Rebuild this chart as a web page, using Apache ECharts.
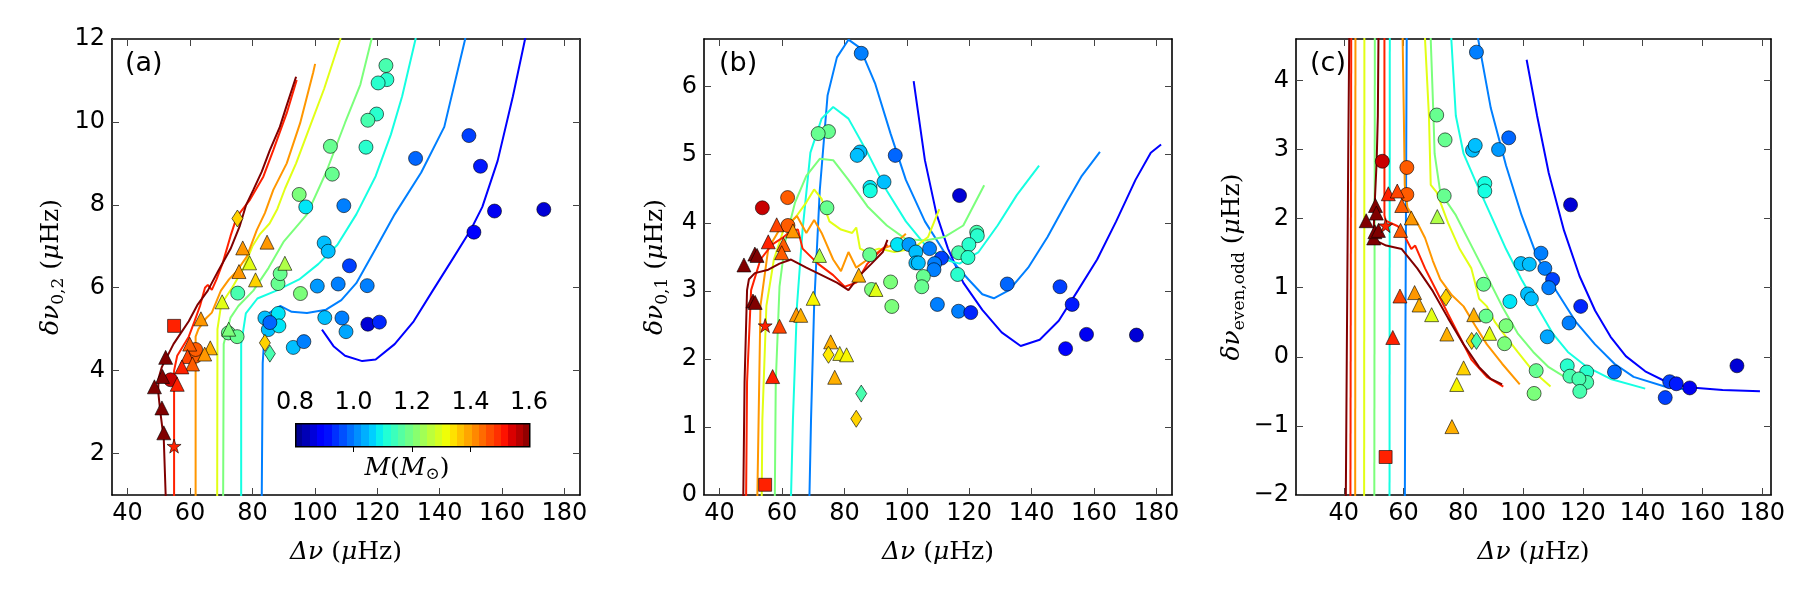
<!DOCTYPE html>
<html lang="en">
<head>
    <meta charset="UTF-8">
    <title>Asteroseismic diagrams</title>
</head>
<body style="margin:0">
<div id="main" style="width:1800px;height:600px;"></div>
</body>
<script src="https://cdn.jsdelivr.net/npm/echarts@6/dist/echarts.min.js"></script>
<script>
    // track masses (M_sun), same order as the track arrays below
    var trackMasses = [0.9, 1.0, 1.1, 1.2, 1.3, 1.4, 1.5, 1.6];
    var xTicks = [40, 60, 80, 100, 120, 140, 160, 180];
    var aTicks = [2, 4, 6, 8, 10, 12];
    var bTicks = [0, 1, 2, 3, 4, 5, 6];
    var cTicks = [-2, -1, 0, 1, 2, 3, 4];
    var massTicks = [0.8, 1.0, 1.2, 1.4, 1.6];

    // ---- panel (a): dnu vs d02 ----  [dnu, value, mass]
    var aCircles = [[122.8,11.36,1.15],[123.1,11.02,1.12],[120.3,10.94,1.12],[119.8,10.19,1.12],[117.0,10.04,1.15],
        [105.0,9.41,1.18],[116.4,9.39,1.12],[105.6,8.74,1.18],[95.0,8.25,1.2],[97.1,7.95,1.08],[109.3,7.98,1.0],
        [132.3,9.12,0.98],[149.4,9.67,0.95],[153.1,8.93,0.92],[157.6,7.85,0.88],[173.4,7.89,0.86],[151.0,7.34,0.9],
        [103.0,7.08,1.05],[104.3,6.88,1.05],[111.1,6.53,0.95],[100.8,6.04,1.02],[107.5,6.09,1.0],[116.8,6.05,1.0],
        [95.4,5.86,1.2],[75.3,5.87,1.15],[103.2,5.28,1.05],[108.7,5.27,1.0],[117.0,5.12,0.86],[120.7,5.17,0.93],
        [110.0,4.94,1.03],[93.1,4.56,1.05],[96.5,4.70,1.0],[84.0,5.27,1.05],[88.3,5.38,1.08],[85.1,4.99,1.05],
        [88.5,5.08,1.08],[85.6,5.16,0.98],[88.2,6.10,1.18],[88.9,6.34,1.18],[72.3,4.91,1.18],[75.1,4.82,1.18],
        [61.8,4.35,1.45],[61.8,4.51,1.45],[53.8,3.78,1.55]];
    var aTriangles = [[76.9,6.96,1.4],[84.7,7.1,1.4],[79.1,6.6,1.3],[75.7,6.39,1.4],[81.0,6.19,1.35],[90.4,6.59,1.25],
        [70.3,5.66,1.3],[63.5,5.25,1.4],[72.4,5.0,1.2],[66.5,4.55,1.38],[59.9,4.64,1.45],[64.7,4.4,1.4],
        [59.2,4.34,1.47],[60.8,4.16,1.45],[57.4,4.09,1.5],[55.9,3.67,1.5],[52.2,4.32,1.6],[51.2,3.86,1.6],
        [48.6,3.61,1.6],[51.0,3.10,1.6],[51.6,2.50,1.6]];
    var aDiamonds = [[75.2,7.67,1.35],[84.0,4.67,1.35],[85.6,4.41,1.15]];
    var aSquares = [[54.9,5.08,1.5]];
    var aStars = [[54.9,2.18,1.5]];
    var aTracks = [
        [[102.3,4.99],[106.0,4.59],[109.7,4.36],[115.2,4.23],[119.5,4.27],[125.6,4.64],[131.7,5.19],[137.8,5.93],
            [143.9,6.66],[150.0,7.40],[153.7,7.95],[158.6,9.06],[163.5,10.62],[167.4,12.0],[168.5,12.5]],
        [[83.0,0.5],[83.0,1],[83.3,4.18],[84.0,5.0],[85.2,5.38],[88.9,5.56],[92.6,5.42],[97.5,5.39],[103.6,5.47],
            [108.5,5.70],[113.3,6.11],[119.5,6.94],[125.6,7.77],[134.1,8.78],[141.5,9.88],[148.2,12.0],[148.8,12.5]],
        [[76.4,0.5],[76.4,4.64],[77.9,5.38],[81.6,5.74],[87.7,5.93],[95.0,6.20],[101.1,6.57],[107.2,7.03],
            [113.3,7.77],[119.5,8.69],[124.4,9.70],[128.0,10.62],[132.3,12.0],[132.5,12.5]],
        [[70.6,0.5],[70.8,4.64],[73.0,5.28],[75.5,5.56],[80.3,5.93],[85.2,6.48],[90.1,7.12],[97.5,7.77],
            [103.6,8.78],[109.7,9.98],[114.6,10.90],[118.2,12.0],[118.5,12.5]],
        [[68.7,0.5],[68.8,5.0],[70.0,5.6],[73.5,6.0],[77.0,6.45],[80.0,7.0],[82.5,7.3],[85.5,7.55],[88.0,7.9],
            [90.5,8.4],[94.0,9.0],[98.0,9.8],[103.0,10.8],[108.2,12.0],[108.5,12.5]],
        [[61.8,0.5],[61.8,4.82],[62.7,5.0],[65.0,5.25],[67.0,5.4],[69.9,5.93],[72.5,6.2],[75.0,6.4],[78.2,6.75],
            [81.4,7.39],[84.0,7.8],[86.7,8.36],[91.0,9.0],[95.3,9.97],[99.5,11.2],[100.1,11.4]],
        [[54.9,0.5],[54.9,4.0],[55.9,4.36],[58.0,4.62],[59.6,4.82],[61.5,5.2],[63.2,5.56],[64.8,6.0],[65.7,6.07],
            [67.0,5.95],[68.5,6.2],[70.5,6.6],[73.0,7.25],[75.0,7.71],[79.2,8.12],[83.5,8.68],[86.7,9.32],
            [91.0,10.21],[94.2,11.01]],
        [[52.2,0.5],[52.2,1],[51.6,2.34],[50.5,3.0],[49.8,3.5],[49.9,3.81],[51.0,4.09],[54.7,4.64],[57.0,4.9],
            [59.6,5.19],[62.5,5.6],[65.7,5.93],[69.0,6.4],[73.0,6.94],[76.0,7.5],[78.0,8.0],[80.3,8.36],[83.0,8.8],
            [85.6,9.32],[88.8,9.88],[91.0,10.4],[94.0,11.09]]
    ];

    // ---- panel (b): dnu vs d01 ----
    var bCircles = [[85.4,6.49,1.0],[74.9,5.34,1.18],[71.6,5.31,1.18],[85.0,5.04,1.05],[84.1,4.99,1.05],[96.3,4.99,0.98],
        [92.7,4.60,1.05],[88.2,4.52,1.08],[88.3,4.47,1.1],[116.9,4.40,0.86],[74.4,4.22,1.18],[53.7,4.22,1.55],
        [61.8,4.37,1.45],[61.9,3.96,1.45],[122.4,3.86,1.15],[122.6,3.81,1.12],[97.0,3.68,1.08],[100.7,3.68,1.02],
        [102.9,3.57,1.05],[107.3,3.62,1.0],[111.1,3.48,0.95],[116.6,3.56,1.15],[119.9,3.68,1.12],[119.6,3.49,1.12],
        [88.1,3.53,1.18],[102.9,3.41,1.05],[103.7,3.41,1.05],[108.9,3.40,1.0],[108.7,3.31,1.0],[105.3,3.21,1.18],
        [116.3,3.24,1.12],[104.8,3.06,1.18],[94.8,3.13,1.2],[88.7,3.02,1.2],[95.2,2.77,1.2],[109.8,2.80,1.0],
        [116.6,2.70,1.0],[120.5,2.68,0.93],[132.2,3.10,0.98],[149.1,3.06,0.95],[153.0,2.80,0.92],[157.6,2.36,0.88],
        [150.9,2.15,0.9],[173.6,2.35,0.86]];
    var bTriangles = [[47.8,3.38,1.6],[51.3,3.54,1.6],[52.0,3.52,1.6],[50.7,2.85,1.6],[51.4,2.83,1.6],[55.6,3.72,1.5],
        [58.3,3.97,1.47],[60.5,3.68,1.45],[59.9,3.56,1.45],[63.5,3.88,1.4],[59.2,2.48,1.47],[57.0,1.74,1.5],
        [64.6,2.65,1.4],[66.0,2.64,1.38],[72.0,3.52,1.25],[70.0,2.89,1.32],[75.6,2.25,1.38],[78.5,2.08,1.32],
        [80.7,2.06,1.32],[76.9,1.73,1.38],[84.6,3.23,1.38],[90.1,3.02,1.3]];
    var bDiamonds = [[74.9,2.06,1.33],[85.4,1.49,1.15],[83.8,1.12,1.35]];
    var bSquares = [[54.6,0.15,1.5]];
    var bStars = [[54.6,2.49,1.5]];
    var bTracks = [
        [[102.2,6.08],[105.8,4.92],[109.5,4.13],[113.2,3.62],[118.1,3.12],[124.2,2.72],[130.4,2.39],[136.5,2.19],
            [142.6,2.28],[148.7,2.56],[154.9,3.01],[161.0,3.46],[167.1,4.02],[173.3,4.63],[178.2,5.03],[181.5,5.15]],
        [[68.8,-0.5],[68.8,0],[69.3,1.10],[70.3,2.78],[72.1,4.47],[74.6,5.87],[77.6,6.43],[81.3,6.69],[85.0,6.57],
            [89.9,6.04],[94.8,5.31],[99.7,4.63],[105.8,4.02],[112.0,3.57],[119.7,3.17],[124.2,2.95],[127.9,2.89],
            [132.8,3.01],[138.9,3.34],[145.1,3.79],[151.2,4.30],[156.1,4.69],[161.9,5.04]],
        [[62.9,-0.5],[62.9,0],[63.5,1.10],[64.8,2.78],[66.6,3.90],[69.1,5.03],[72.7,5.53],[76.4,5.70],[81.3,5.53],
            [87.4,5.03],[93.6,4.47],[99.7,4.02],[105.8,3.68],[112.0,3.46],[116.9,3.40],[123.0,3.57],[129.1,3.96],
            [135.3,4.41],[142.4,4.84]],
        [[57.7,-0.5],[57.7,0],[58.0,1.66],[59.2,3.06],[61.1,3.74],[64.2,4.30],[67.8,4.69],[72.1,4.94],[76.4,4.92],
            [81.3,4.63],[87.4,4.24],[93.6,3.96],[99.7,3.76],[105.8,3.74],[112.0,3.79],[118.1,3.96],[124.8,4.55]],
        [[53.5,-0.5],[53.5,0],[53.7,1.10],[55.0,2.78],[57.4,3.46],[60.5,3.90],[64.2,4.07],[67.8,4.30],[70.3,4.49],
            [72.7,4.35],[75.2,4.02],[78.9,3.90],[82.5,3.85],[83.8,3.93],[85.0,3.62],[87.4,3.57],[91.1,3.62],
            [96.0,3.57],[102.0,3.62],[106.8,3.79],[110.4,4.20]],
        [[52.1,-0.5],[52.1,0],[52.5,1.10],[53.1,2.78],[55.6,3.62],[59.2,3.90],[62.9,4.02],[64.8,4.10],[67.8,3.85],
            [70.3,4.04],[72.7,3.85],[76.4,3.46],[78.9,3.29],[81.3,3.57],[83.8,3.34],[87.4,3.46],[92.3,3.62],
            [96.0,3.68],[99.7,3.84]],
        [[48.5,-0.5],[48.5,0],[48.8,1.66],[50.1,3.01],[53.1,3.46],[56.8,3.68],[60.5,3.79],[62.9,3.88],[65.1,3.90],
            [66.6,3.62],[71.5,3.40],[76.4,3.23],[80.1,3.06],[83.8,3.12],[87.4,3.40],[91.1,3.57],[93.8,3.68]],
        [[47.6,-0.5],[47.6,0],[48.0,1.66],[48.8,3.01],[49.4,3.17],[51.3,3.26],[55.6,3.31],[59.2,3.40],[62.9,3.46],
            [67.8,3.34],[72.7,3.23],[77.6,3.12],[81.3,3.01],[85.0,3.23],[88.7,3.40],[92.3,3.57],[93.8,3.75]]
    ];

    // ---- panel (c): dnu vs d even,odd ----
    var cCircles = [[84.4,4.41,1.0],[95.2,3.17,0.98],[71.1,3.50,1.18],[73.9,3.14,1.18],[83.1,2.99,1.05],[84.0,3.06,1.05],
        [91.8,3.00,1.02],[87.2,2.51,1.1],[87.2,2.40,1.1],[73.6,2.33,1.18],[115.9,2.20,0.86],[52.9,2.83,1.55],
        [61.1,2.74,1.45],[61.1,2.35,1.45],[99.3,1.35,1.05],[102.1,1.34,1.05],[106.0,1.50,1.0],[107.3,1.28,1.0],
        [109.9,1.12,0.95],[108.6,1.00,1.0],[86.8,1.05,1.18],[101.5,0.91,1.05],[102.8,0.84,1.05],[95.6,0.80,1.08],
        [119.3,0.73,0.93],[115.4,0.49,1.0],[87.6,0.59,1.18],[94.3,0.45,1.2],[93.8,0.19,1.2],[108.1,0.29,1.03],
        [104.4,-0.20,1.18],[103.7,-0.53,1.2],[114.8,-0.13,1.12],[115.7,-0.28,1.15],[121.3,-0.22,1.12],
        [121.3,-0.37,1.15],[118.7,-0.32,1.15],[119.0,-0.50,1.15],[130.6,-0.22,0.98],[149.1,-0.36,0.95],
        [151.3,-0.39,0.92],[155.8,-0.45,0.88],[147.6,-0.59,0.95],[171.6,-0.13,0.86]];
    var cTriangles = [[47.5,1.97,1.6],[50.6,2.19,1.6],[50.9,2.08,1.6],[50.0,1.72,1.6],[50.4,1.81,1.6],[51.6,1.83,1.6],
        [54.9,2.36,1.5],[57.9,2.40,1.47],[59.4,2.19,1.45],[59.0,1.83,1.45],[62.6,2.01,1.4],[58.8,0.88,1.47],
        [56.4,0.28,1.5],[63.7,0.93,1.4],[65.2,0.75,1.38],[69.4,0.61,1.3],[71.3,2.03,1.25],[74.5,0.33,1.38],
        [83.5,0.61,1.38],[88.8,0.34,1.3],[80.1,-0.16,1.35],[77.8,-0.40,1.32],[76.2,-1.01,1.38]];
    var cDiamonds = [[74.2,0.86,1.35],[82.8,0.23,1.35],[84.4,0.23,1.15]];
    var cSquares = [[54.0,-1.45,1.5]];
    var cStars = [[54.0,1.90,1.5]];
    // each track: list of line pieces
    var cTracks = [
        [[[101.2,4.30],[104.7,3.49],[108.6,2.66],[113.7,1.83],[118.9,1.17],[124.1,0.67],[129.3,0.29],[134.4,0.01],
            [140.9,-0.21],[147.4,-0.35],[155.2,-0.44],[166.8,-0.48],[179.3,-0.50]]],
        [[[60.4,-2.5],[60.6,0],[60.8,2],[61.1,5]],
            [[84.3,5],[85.0,4.59],[89.2,3.60],[94.3,2.77],[99.5,2.05],[104.7,1.45],[111.2,0.95],[117.6,0.51],
                [124.1,0.18],[130.6,-0.10],[137.0,-0.29],[147.4,-0.43],[155.8,-0.48]]],
        [[[55.3,-2.5],[55.4,5]],
            [[75.8,5],[76.0,4.59],[77.5,3.49],[80.1,2.94],[84.0,2.55],[89.2,2.05],[94.3,1.56],[99.5,1.12],
                [104.7,0.73],[109.9,0.34],[115.0,0.07],[121.5,-0.15],[129.3,-0.32],[140.9,-0.46]]],
        [[[50.2,-2.5],[50.4,5]],
            [[69.0,5],[69.1,4.59],[70.0,3.5],[70.4,2.94],[72.3,2.38],[77.5,2.05],[82.7,1.61],[87.9,1.17],[93.0,0.73],
                [98.2,0.34],[103.4,0.07],[108.6,-0.15],[115.0,-0.32],[122.8,-0.37]]],
        [[[46.8,-2.5],[46.9,5]],
            [[67.1,5],[67.2,4.59],[68.5,3.49],[69.1,2.49],[71.1,2.38],[74.9,1.94],[78.8,1.56],[82.7,1.28],[84.0,1.06],
                [85.3,0.84],[87.9,0.73],[90.5,0.51],[94.3,0.29],[98.2,0.07],[103.4,-0.21],[109.2,-0.43]]],
        [[[43.8,-2.5],[43.9,5]],
            [[59.6,5],[59.7,4.59],[60.1,3.49],[60.4,2.49],[61.3,2.16],[64.6,1.94],[67.2,1.72],[69.8,1.39],[72.3,1.12],
                [76.2,0.89],[80.1,0.73],[84.0,0.45],[87.9,0.18],[93.0,-0.10],[98.9,-0.40]]],
        [[[42.2,-2.5],[42.5,5]],
            [[53.6,5],[53.6,4.59],[53.6,2.05],[54.0,1.97],[55.5,1.94],[58.1,1.89],[60.7,1.72],[62.6,1.56],[63.9,1.61],
                [67.2,1.28],[71.1,0.95],[74.9,0.62],[78.8,0.29],[82.7,-0.04],[87.9,-0.29],[93.4,-0.43]]],
        [[[40.6,-2.5],[41.0,0],[41.5,3],[41.9,5]],
            [[51.6,5],[51.6,4.59],[51.4,3.49],[51.0,2.83],[50.4,2.27],[50.0,1.83],[50.4,1.69],[54.2,1.61],[59.4,1.56],
                [64.6,1.28],[69.8,0.95],[74.9,0.56],[80.1,0.18],[85.3,-0.15],[89.2,-0.32],[93.0,-0.40]]]
    ];

    // matplotlib 'jet' colormap on 0.8..1.6
    var JET = {
        r: [[0, 0], [0.35, 0], [0.66, 1], [0.89, 1], [1, 0.5]],
        g: [[0, 0], [0.125, 0], [0.375, 1], [0.64, 1], [0.91, 0], [1, 0]],
        b: [[0, 0.5], [0.11, 1], [0.34, 1], [0.65, 0], [1, 0]]
    };
    function interp(pts, t) {
        for (var i = 1; i < pts.length; i++) {
            if (t <= pts[i][0]) {
                var x0 = pts[i - 1][0], y0 = pts[i - 1][1], x1 = pts[i][0], y1 = pts[i][1];
                return y0 + (y1 - y0) * (t - x0) / (x1 - x0);
            }
        }
        return pts[pts.length - 1][1];
    }
    function jet(m) {
        var t = Math.min(1, Math.max(0, (m - 0.8) / 0.8));
        return 'rgb(' + Math.round(255 * interp(JET.r, t)) + ',' + Math.round(255 * interp(JET.g, t)) + ',' +
            Math.round(255 * interp(JET.b, t)) + ')';
    }

    var tickFont = 'DejaVu Sans';
    var serif = 'DejaVu Serif';
    var richName = {
        i: {fontFamily: serif, fontStyle: 'italic', fontSize: 25, color: '#000'},
        r: {fontFamily: serif, fontSize: 25, color: '#000'},
        s: {fontFamily: serif, fontSize: 17, color: '#000', padding: [14, 0, 0, 0]}
    };
    function minus(v) {
        return v < 0 ? '\u2212' + (-v) : String(v);
    }

    function axisPair(grid, min, max, ticks, isX, name, gap, fmt) {
        var base = {
            gridIndex: grid, type: 'value', min: min, max: max,
            splitLine: {show: false},
            axisLine: {show: true, onZero: false, lineStyle: {color: '#000', width: 1.6}},
            axisTick: {show: true, inside: true, length: 7, customValues: ticks, lineStyle: {color: '#444', width: 1}}
        };
        var main = Object.assign({}, base, {
            position: isX ? 'bottom' : 'left',
            axisLabel: {customValues: ticks, color: '#000', fontFamily: tickFont, fontSize: 24, margin: 7,
                formatter: fmt || function (v) { return String(v); }},
            name: name, nameLocation: 'middle', nameGap: gap,
            nameRotate: isX ? 0 : 90,
            nameTextStyle: {rich: richName}
        });
        var other = Object.assign({}, base, {
            position: isX ? 'top' : 'right',
            axisLabel: {show: false}
        });
        return [main, other];
    }

    var xName = '{i|Δν}{r| (}{i|μ}{r|Hz)}';
    var xAxes = [].concat(
        axisPair(0, 35, 185, xTicks, true, xName, 45),
        axisPair(1, 35, 185, xTicks, true, xName, 45),
        axisPair(2, 24, 183, xTicks, true, xName, 45)
    );
    var yAxes = [].concat(
        axisPair(0, 1, 12, aTicks, false, '{i|δν}{s|0,2}{r| (}{i|μ}{r|Hz)}', 45),
        axisPair(1, 0, 6.7, bTicks, false, '{i|δν}{s|0,1}{r| (}{i|μ}{r|Hz)}', 33),
        axisPair(2, -2, 4.6, cTicks, false, '{i|δν}{s|even,odd}{r| (}{i|μ}{r|Hz)}', 48, minus)
    );
    // colour bar axis
    xAxes.push({
        gridIndex: 3, type: 'value', min: 0.8, max: 1.6, position: 'top',
        splitLine: {show: false}, axisLine: {show: false},
        axisTick: {show: true, inside: true, length: 6, customValues: [1.0, 1.2, 1.4],
            lineStyle: {color: '#000', width: 1}},
        axisLabel: {customValues: massTicks, color: '#000', fontFamily: tickFont, fontSize: 24, margin: 8,
            formatter: function (v) { return v.toFixed(1); }}
    });
    yAxes.push({gridIndex: 3, type: 'value', show: false, min: 0, max: 1});

    var series = [];
    function addTrack(panel, pts, mass) {
        series.push({
            type: 'line', xAxisIndex: 2 * panel, yAxisIndex: 2 * panel, data: pts,
            showSymbol: false, symbol: 'none', clip: true, z: 2,
            lineStyle: {color: jet(mass), width: 2}
        });
    }
    aTracks.forEach(function (t, i) { addTrack(0, t, trackMasses[i]); });
    bTracks.forEach(function (t, i) { addTrack(1, t, trackMasses[i]); });
    cTracks.forEach(function (pieces, i) {
        pieces.forEach(function (p) { addTrack(2, p, trackMasses[i]); });
    });

    var starPath = 'path://M50,0 L61.8,35.4 L99,35.4 L69,57.3 L80.4,92.7 L50,70.8 L19.6,92.7 L31,57.3 L1,35.4 L38.2,35.4 Z';
    function addPoints(panel, data, symbol, size) {
        series.push({
            type: 'scatter', xAxisIndex: 2 * panel, yAxisIndex: 2 * panel, data: data,
            symbol: symbol, symbolSize: size, z: 5,
            itemStyle: {
                color: function (p) { return jet(p.value[2]); },
                borderColor: '#000', borderWidth: 0.6, opacity: 1
            }
        });
    }
    [[aCircles, aTriangles, aDiamonds, aSquares, aStars],
        [bCircles, bTriangles, bDiamonds, bSquares, bStars],
        [cCircles, cTriangles, cDiamonds, cSquares, cStars]].forEach(function (sets, k) {
        addPoints(k, sets[0], 'circle', 14);
        addPoints(k, sets[1], 'triangle', 14);
        addPoints(k, sets[2], 'diamond', [11, 17]);
        addPoints(k, sets[3], 'rect', 13);
        addPoints(k, sets[4], starPath, 14);
    });
    series.push({type: 'scatter', xAxisIndex: 6, yAxisIndex: 6, data: []});

    // banded jet colour bar
    var bands = 32, stops = [];
    for (var i = 0; i < bands; i++) {
        var c = jet(0.8 + 0.8 * (i + 0.5) / bands);
        stops.push({offset: i / bands, color: c}, {offset: (i + 1) / bands, color: c});
    }

    var myChart = echarts.init(document.getElementById('main'));
    var option = {
        animation: false,
        backgroundColor: '#fff',
        grid: [
            {left: 112, top: 39, width: 468, height: 456},
            {left: 704, top: 39, width: 468, height: 456},
            {left: 1296, top: 39, width: 475, height: 456},
            {left: 295, top: 423, width: 234, height: 23}
        ],
        xAxis: xAxes,
        yAxis: yAxes,
        series: series,
        graphic: [
            {type: 'rect', left: 295, top: 423, z: 10,
                shape: {width: 234, height: 23},
                style: {fill: new echarts.graphic.LinearGradient(0, 0, 1, 0, stops), stroke: '#000', lineWidth: 1.5}},
            {type: 'text', x: 407, y: 468, z: 10,
                style: {text: '{i|M}{r|(}{i|M}{s|⊙}{r|)}', rich: richName, align: 'center', verticalAlign: 'middle'}},
            {type: 'text', x: 125, y: 50, style: {text: '(a)', fontFamily: tickFont, fontSize: 27, fill: '#000'}},
            {type: 'text', x: 719, y: 50, style: {text: '(b)', fontFamily: tickFont, fontSize: 27, fill: '#000'}},
            {type: 'text', x: 1310, y: 50, style: {text: '(c)', fontFamily: tickFont, fontSize: 27, fill: '#000'}}
        ]
    };
    myChart.setOption(option);
</script>
</html>
